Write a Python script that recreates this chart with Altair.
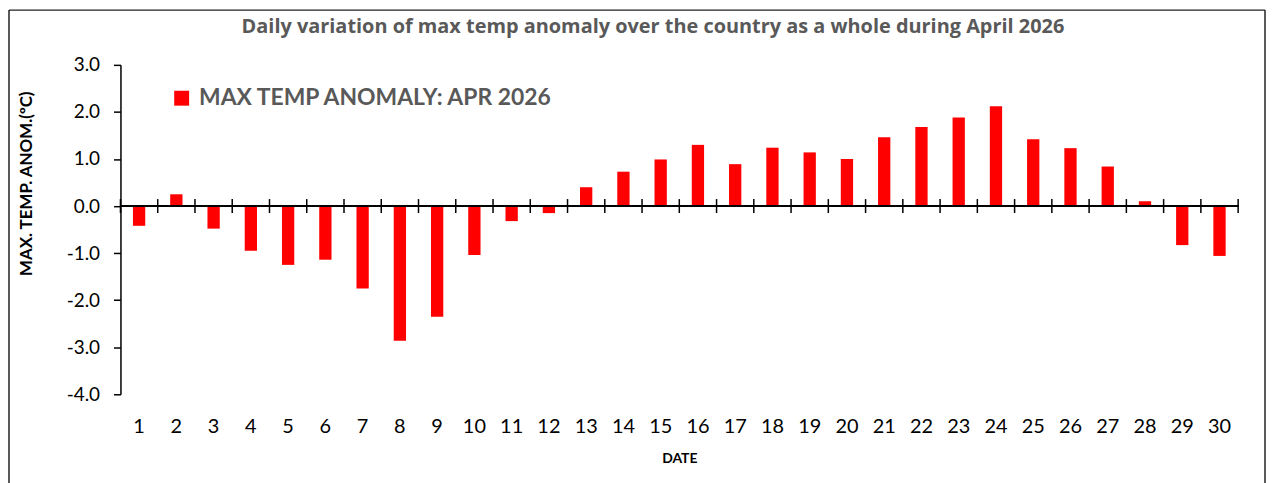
import altair as alt
import pandas as pd

# ---- data ----
dates = list(range(1, 31))
anomaly = [-0.42, 0.25, -0.48, -0.95, -1.25, -1.14, -1.75, -2.86, -2.35, -1.04,
           -0.32, -0.15, 0.40, 0.73, 0.99, 1.30, 0.89, 1.24, 1.14, 1.00,
           1.46, 1.68, 1.88, 2.12, 1.42, 1.23, 0.84, 0.10, -0.83, -1.06]
series_name = "MAX TEMP ANOMALY: APR 2026"
title_text = "Daily variation of max temp anomaly over the country as a whole during April 2026"
y_title = "MAX. TEMP. ANOM.(\u00baC)"
x_title = "DATE"
y_ticks = [-4, -3, -2, -1, 0, 1, 2, 3]

df = pd.DataFrame({"date": dates, "anomaly": anomaly, "series": [series_name] * len(dates)})

W, H = 1123, 331
FONT = "Lato"

xscale = alt.Scale(paddingInner=0, paddingOuter=0)
yscale = alt.Scale(domain=[-4, 3], nice=False, zero=False)

x_axis = alt.Axis(labelAngle=0, labelFontSize=20, labelFont=FONT, labelColor="black",
                  ticks=False, tickSize=0, domain=False, labelPadding=32,
                  labelBaseline="middle", grid=False,
                  title=x_title, titleFont=FONT, titleFontSize=14, titleFontWeight="bold",
                  titleColor="black", titleX=W / 2, titleY=65, titleBaseline="middle",
                  titleAlign="center")

bars = alt.Chart(df).mark_bar(width={"band": 0.33}).encode(
    x=alt.X("date:O", scale=xscale, sort=dates, axis=x_axis),
    y=alt.Y("anomaly:Q", scale=yscale,
            axis=alt.Axis(values=y_ticks,
                          labelExpr="(datum.value < 0 ? '-' : '') + format(abs(datum.value), '.1f')",
                          labelFontSize=19, labelFont=FONT, labelColor="black",
                          tickSize=7, tickColor="black", tickWidth=1.5,
                          domainColor="black", domainWidth=1.5, labelPadding=14, grid=False,
                          title=y_title, titleFont=FONT, titleFontSize=17, titleFontWeight="bold",
                          titleColor="black", titleX=-94, titleY=119, titleAngle=-90,
                          titleAlign="center", titleBaseline="middle")),
    color=alt.Color("series:N", scale=alt.Scale(domain=[series_name], range=["#FF0000"]),
                    legend=alt.Legend(orient="none", legendX=50, legendY=22, title=None,
                                      symbolType="square", symbolSize=225, symbolStrokeWidth=0,
                                      labelFontSize=23, labelFont=FONT, labelFontWeight="bold",
                                      labelColor="#595959", padding=0, labelOffset=6,
                                      labelLimit=700)),
)

zero_line = alt.Chart(df).mark_rule(color="black", strokeWidth=2).encode(
    y=alt.datum(0), x=alt.value(0), x2=alt.value(W)
)

ticks = alt.Chart(df).mark_rule(color="black", strokeWidth=1.5, yOffset=-7, y2Offset=7).encode(
    x=alt.X("date:O", bandPosition=0, sort=dates, axis=x_axis),
    y=alt.datum(0), y2=alt.datum(0)
)

end_tick = alt.Chart(df.head(1)).mark_rule(color="black", strokeWidth=1.5, yOffset=-7, y2Offset=7).encode(
    x=alt.value(W), y=alt.datum(0), y2=alt.datum(0)
)

title = alt.Chart(pd.DataFrame({"t": [title_text]})).mark_text(
    font="Open Sans", fontSize=20, fontWeight="bold", color="#595959", align="center", baseline="middle"
).encode(text="t:N", x=alt.value(535), y=alt.value(-38))

one = pd.DataFrame({"k": [0]})
border_left = alt.Chart(one).mark_rule(color="#222222", strokeWidth=1.5).encode(
    x=alt.value(-112), y=alt.value(-55), y2=alt.value(H + 90))
border_top = alt.Chart(one).mark_rule(color="#222222", strokeWidth=1.5).encode(
    x=alt.value(-112), x2=alt.value(W + 27), y=alt.value(-55))
border_right = alt.Chart(one).mark_rule(color="#222222", strokeWidth=1.5).encode(
    x=alt.value(W + 27), y=alt.value(-55), y2=alt.value(H + 90))

chart = alt.layer(bars, zero_line, ticks, end_tick, title, border_left, border_top, border_right).properties(
    width=W, height=H,
    padding={"left": 113, "top": 56, "right": 28, "bottom": 88},
    autosize=alt.AutoSizeParams(type="none"),
    background="white",
).configure_view(strokeWidth=0)

chart.save("out.html", embed_options={"renderer": "svg", "actions": False})
